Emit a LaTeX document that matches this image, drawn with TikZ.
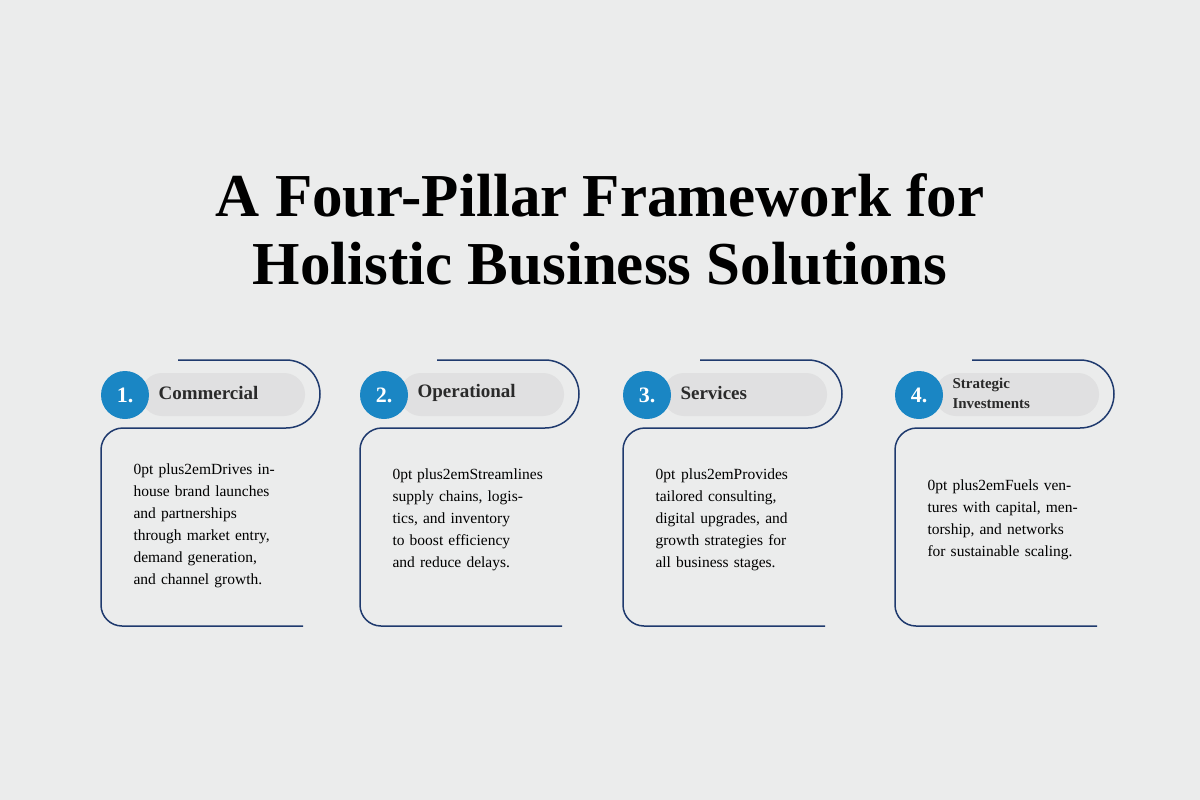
\documentclass[tikz,border=0pt]{standalone}
\usepackage{fontspec}
\setmainfont{Liberation Serif}
\definecolor{bg}{HTML}{EBECEC}
\definecolor{pill}{HTML}{E0E0E1}
\definecolor{navy}{HTML}{1F3A6E}
\definecolor{blue}{HTML}{1A86C4}
\definecolor{txt}{HTML}{2A2A2A}
\tikzset{
  frame/.style={draw=navy,line width=1.5pt},
  num/.style={circle,fill=blue,minimum size=48pt,inner sep=0pt,text=white,font=\fontsize{22}{22}\selectfont\bfseries},
  lbl/.style={anchor=west,text=txt,font=\fontsize{19}{20}\selectfont\bfseries,align=left},
  body/.style={text width=165pt,align=center,text=black,font=\fontsize{15.5}{22}\selectfont\hyphenpenalty=10000\exhyphenpenalty=10000},
}
\begin{document}
\begin{tikzpicture}[x=1pt,y=-1pt]
\fill[bg] (0,0) rectangle (1200,800);
\useasboundingbox (0,0) rectangle (1200,800);
\node[font=\fontsize{61}{68}\selectfont\bfseries,align=center] (title) at (600,229) {A Four-Pillar Framework for\\Holistic Business Solutions};
\foreach \x/\n/\l/\b [count=\i] in {
 101/1./Commercial/{Drives in-house brand launches and partnerships through market entry, demand generation, and channel growth.},
 360/2./Operational/{Streamlines supply chains, logistics, and inventory to boost efficiency and reduce delays.},
 623/3./Services/{Provides tailored consulting, digital upgrades, and growth strategies for all business stages.},
 895/4./{\fontsize{15}{17}\selectfont Strategic\\\fontsize{15}{17}\selectfont Investments}/{Fuels ventures with capital, mentorship, and networks for sustainable scaling.}}{
  \fill[pill] (\x+40,373) [rounded corners=21pt] rectangle (\x+204,416);
  \draw[frame] (\x+77,360) -- (\x+185,360) arc[start angle=-90,end angle=90,radius=34] -- (\x+22,428) arc[start angle=-90,end angle=-180,radius=22] -- (\x,605) arc[start angle=180,end angle=90,radius=21] -- (\x+202,626);
  \node[num] (c\i) at (\x+24,395) {\n};
  \node[lbl] (l\i) at (\x+54,393) {\l};
  \node[body] (b\i) at (\x+115,\ifnum\i=1 526\else 520\fi) {\b};
}
\end{tikzpicture}
\end{document}
